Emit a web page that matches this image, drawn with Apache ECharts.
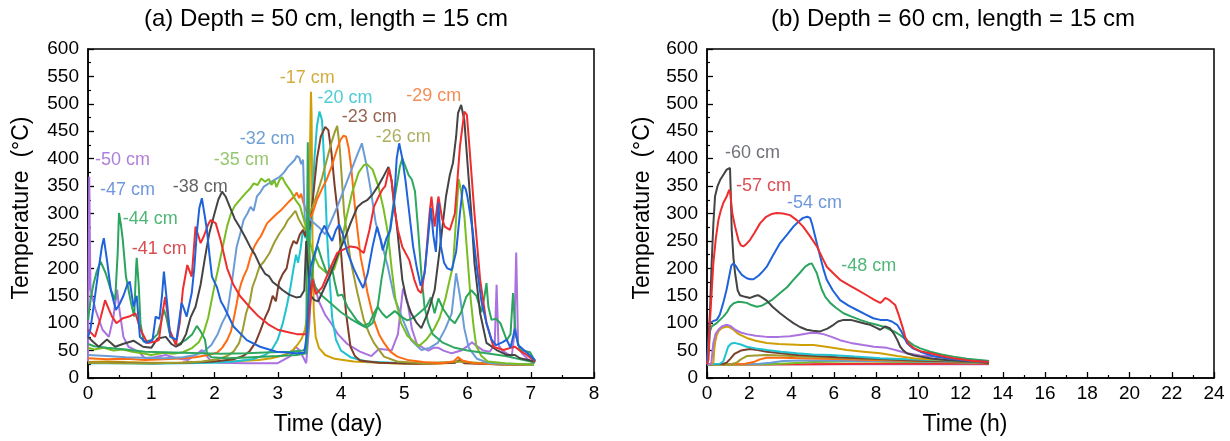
<!DOCTYPE html>
<html><head><meta charset="utf-8">
<script src="https://cdn.jsdelivr.net/npm/echarts/dist/echarts.min.js"></script>
<style>html,body{margin:0;padding:0;background:#fff}#c{width:1230px;height:441px}</style>
</head><body><div id="c"></div>
<script>
// ---------- (a) Depth = 50 cm : time in days, temperature in °C ----------
const a17 = [[0,29],[0.3,30],[0.6,29],[1,28],[1.4,28],[1.8,29],[2.1,30],[2.4,31],[2.7,33],[2.9,36],[3.05,40],[3.15,44],[3.25,52],[3.32,62],[3.38,72],[3.43,88],[3.47,115],[3.49,200],[3.51,420],[3.525,522],[3.535,480],[3.55,250],[3.57,120],[3.6,75],[3.65,55],[3.75,42],[3.9,35],[4.2,30],[4.6,28],[5,26],[5.5,26],[5.8,28],[5.88,34],[5.95,28],[6.4,25],[7.05,24]];
const a20 = [[0,27],[0.5,27],[1,26],[1.5,27],[2,28],[2.3,30],[2.6,34],[2.8,42],[2.9,50],[3.0,70],[3.08,100],[3.15,135],[3.2,165],[3.25,200],[3.29,225],[3.32,210],[3.36,235],[3.4,270],[3.44,255],[3.47,290],[3.5,240],[3.54,300],[3.58,400],[3.62,460],[3.66,486],[3.7,470],[3.74,380],[3.78,260],[3.82,180],[3.86,110],[3.92,70],[4.0,50],[4.15,38],[4.4,30],[5,27],[5.8,28],[5.88,33],[5.95,28],[6.5,25],[7.05,24]];
const a23 = [[0,28],[0.5,28],[1,27],[1.5,28],[2,30],[2.3,34],[2.45,40],[2.55,48],[2.65,65],[2.72,85],[2.8,110],[2.86,125],[2.92,150],[2.97,140],[3.02,175],[3.08,190],[3.14,200],[3.2,235],[3.25,250],[3.3,245],[3.35,262],[3.4,270],[3.44,258],[3.47,285],[3.5,270],[3.55,320],[3.62,400],[3.68,440],[3.75,458],[3.8,452],[3.85,410],[3.9,350],[3.96,290],[4.02,200],[4.08,118],[4.15,57],[4.22,40],[4.3,32],[4.6,28],[5.2,26],[5.8,28],[5.88,32],[5.95,27],[6.5,25],[7.05,24]];
const a26 = [[0,28],[0.5,27],[1,27],[1.5,28],[1.8,30],[2.05,34],[2.2,40],[2.3,48],[2.39,64],[2.45,90],[2.5,118],[2.56,140],[2.6,166],[2.66,185],[2.71,203],[2.78,212],[2.87,228],[2.95,248],[3.03,264],[3.1,275],[3.16,288],[3.22,296],[3.28,305],[3.33,290],[3.38,280],[3.43,270],[3.48,295],[3.55,312],[3.62,335],[3.7,365],[3.78,400],[3.85,430],[3.9,448],[3.94,460],[3.98,420],[4.05,300],[4.15,215],[4.26,155],[4.36,106],[4.45,80],[4.52,64],[4.68,39],[4.89,30],[5.3,27],[5.85,30],[6.5,25],[7.05,24]];
const a29 = [[0,36],[0.3,34],[0.6,35],[0.9,33],[1.2,34],[1.5,36],[1.7,38],[1.9,42],[2.04,46],[2.12,55],[2.2,69],[2.26,85],[2.3,106],[2.35,135],[2.38,155],[2.42,172],[2.46,185],[2.52,200],[2.57,221],[2.63,240],[2.68,250],[2.73,258],[2.78,270],[2.83,282],[2.9,290],[2.99,300],[3.05,306],[3.1,312],[3.18,322],[3.26,331],[3.3,338],[3.34,328],[3.37,336],[3.41,318],[3.45,305],[3.5,290],[3.55,300],[3.62,325],[3.7,345],[3.77,361],[3.85,385],[3.93,415],[3.99,434],[4.04,442],[4.08,440],[4.12,420],[4.16,385],[4.23,300],[4.31,221],[4.38,180],[4.42,155],[4.52,106],[4.6,80],[4.68,64],[4.78,48],[4.89,39],[5.05,33],[5.3,29],[5.6,27],[5.78,30],[5.85,38],[5.92,32],[6.1,27],[6.5,25],[7.05,24]];
const a32 = [[0,42],[0.3,40],[0.6,38],[0.9,37],[1.2,36],[1.5,38],[1.7,42],[1.85,50],[1.95,60],[2.05,80],[2.12,100],[2.2,118],[2.28,179],[2.35,239],[2.41,265],[2.46,288],[2.52,300],[2.57,312],[2.62,305],[2.67,331],[2.72,338],[2.78,349],[2.86,355],[2.94,361],[3.03,367],[3.1,375],[3.16,385],[3.22,392],[3.27,398],[3.3,405],[3.34,402],[3.37,390],[3.4,398],[3.43,282],[3.48,295],[3.55,285],[3.65,275],[3.75,262],[3.84,285],[3.95,315],[4.05,345],[4.15,375],[4.25,405],[4.33,428],[4.4,390],[4.47,343],[4.55,282],[4.63,252],[4.74,203],[4.84,148],[4.98,106],[5.11,69],[5.27,51],[5.4,55],[5.53,64],[5.65,90],[5.75,118],[5.82,191],[5.88,150],[5.95,90],[6.02,55],[6.15,35],[6.35,27],[7.05,24]];
const a35 = [[0,55],[0.1,52],[0.25,55],[0.4,50],[0.55,52],[0.7,48],[0.85,45],[1.0,42],[1.2,46],[1.35,44],[1.5,47],[1.65,55],[1.75,65],[1.83,83],[1.9,110],[1.96,145],[2.01,174],[2.06,200],[2.1,223],[2.15,250],[2.2,277],[2.26,300],[2.32,314],[2.4,325],[2.5,338],[2.56,345],[2.62,355],[2.68,352],[2.74,364],[2.8,358],[2.86,363],[2.9,352],[2.95,360],[2.98,348],[3.03,362],[3.07,366],[3.12,355],[3.18,345],[3.22,338],[3.28,325],[3.35,314],[3.41,290],[3.47,265],[3.55,230],[3.65,204],[3.77,192],[3.89,198],[3.98,230],[4.08,290],[4.18,340],[4.28,375],[4.36,388],[4.41,390],[4.5,380],[4.59,350],[4.67,310],[4.74,265],[4.8,200],[4.86,144],[4.95,100],[5.05,77],[5.23,58],[5.35,70],[5.47,89],[5.56,110],[5.65,144],[5.72,180],[5.77,204],[5.82,290],[5.86,363],[5.9,340],[5.95,296],[6.0,220],[6.05,144],[6.1,90],[6.14,58],[6.22,40],[6.32,30],[6.6,27],[7.05,24]];
const a38 = [[0,75],[0.08,66],[0.17,57],[0.3,70],[0.43,57],[0.55,62],[0.72,68],[0.87,57],[1.0,55],[1.1,72],[1.23,75],[1.32,62],[1.39,57],[1.47,62],[1.55,80],[1.62,110],[1.7,130],[1.78,170],[1.85,220],[1.92,265],[2.0,300],[2.06,325],[2.12,340],[2.18,330],[2.25,310],[2.32,290],[2.4,275],[2.48,258],[2.56,240],[2.64,225],[2.72,205],[2.8,190],[2.86,186],[2.92,175],[3.0,168],[3.08,160],[3.18,152],[3.29,147],[3.36,148],[3.42,160],[3.45,250],[3.48,200],[3.52,150],[3.58,142],[3.64,140],[3.72,160],[3.84,191],[3.95,225],[4.05,252],[4.15,282],[4.26,312],[4.34,320],[4.42,325],[4.5,335],[4.58,349],[4.66,365],[4.75,385],[4.8,360],[4.84,320],[4.89,270],[4.97,179],[5.04,140],[5.11,118],[5.2,100],[5.27,91],[5.37,118],[5.48,160],[5.58,252],[5.66,331],[5.72,370],[5.77,392],[5.82,440],[5.85,483],[5.9,498],[5.95,470],[6.0,392],[6.06,300],[6.11,210],[6.2,118],[6.3,64],[6.46,51],[6.62,42],[6.75,42],[6.83,36],[7.07,30]];
const a41 = [[0,88],[0.11,75],[0.2,110],[0.27,142],[0.33,125],[0.38,112],[0.45,100],[0.55,109],[0.65,112],[0.75,118],[0.83,88],[0.94,64],[1.05,66],[1.12,69],[1.18,120],[1.22,148],[1.29,88],[1.39,60],[1.45,100],[1.5,161],[1.57,206],[1.64,185],[1.7,276],[1.78,246],[1.83,258],[1.9,280],[1.94,288],[2.02,282],[2.1,250],[2.2,200],[2.3,170],[2.4,150],[2.55,130],[2.7,112],[2.85,98],[3.0,88],[3.15,84],[3.3,80],[3.45,80],[3.5,120],[3.55,180],[3.6,153],[3.7,165],[3.84,203],[3.94,228],[4.05,235],[4.15,240],[4.25,238],[4.36,228],[4.45,270],[4.52,312],[4.6,332],[4.65,343],[4.7,350],[4.76,382],[4.8,360],[4.84,312],[4.9,270],[4.97,239],[5.08,215],[5.16,179],[5.22,160],[5.27,155],[5.33,200],[5.4,300],[5.43,331],[5.48,276],[5.54,331],[5.6,290],[5.64,276],[5.72,270],[5.8,300],[5.84,360],[5.88,422],[5.95,486],[5.99,480],[6.03,422],[6.11,300],[6.2,179],[6.3,100],[6.41,57],[6.57,51],[6.68,55],[6.75,57],[6.85,48],[6.94,42],[7.07,30]];
const a44 = [[0,106],[0.05,150],[0.09,173],[0.14,195],[0.2,212],[0.28,191],[0.36,161],[0.43,142],[0.47,230],[0.49,301],[0.52,280],[0.55,252],[0.6,185],[0.68,137],[0.73,112],[0.76,200],[0.77,219],[0.8,173],[0.83,100],[0.88,66],[1.0,69],[1.1,80],[1.15,100],[1.2,125],[1.24,110],[1.29,82],[1.41,60],[1.54,69],[1.65,80],[1.72,95],[1.78,85],[1.85,70],[1.88,45],[1.95,38],[2.2,36],[2.6,38],[3.0,40],[3.3,42],[3.45,45],[3.5,120],[3.55,200],[3.6,232],[3.63,240],[3.7,215],[3.78,190],[3.85,205],[3.9,175],[3.95,150],[4.02,152],[4.1,130],[4.25,105],[4.36,95],[4.45,100],[4.52,118],[4.58,130],[4.65,118],[4.72,110],[4.85,122],[4.95,112],[5.05,105],[5.15,110],[5.25,120],[5.35,130],[5.42,147],[5.48,118],[5.54,145],[5.62,125],[5.72,108],[5.8,100],[5.9,120],[5.98,148],[6.06,160],[6.14,150],[6.22,120],[6.27,150],[6.3,173],[6.33,130],[6.38,106],[6.45,108],[6.52,100],[6.62,69],[6.68,80],[6.72,155],[6.76,80],[6.83,51],[6.99,47],[7.07,30]];
const a44b = [[0,62],[0.1,58],[0.3,55],[0.6,52],[0.9,48],[1.2,47],[1.5,46],[1.8,45],[2.1,44],[2.5,45],[2.9,47],[3.2,48],[3.4,50],[3.45,55],[3.465,300],[3.475,430],[3.49,260],[3.52,190],[3.6,165],[3.7,150],[3.85,135],[4.0,120],[4.15,108],[4.3,98],[4.4,92],[4.5,100],[4.58,130],[4.64,180],[4.7,220],[4.76,260],[4.82,310],[4.88,350],[4.93,385],[4.97,400],[5.02,385],[5.07,370],[5.12,362],[5.17,340],[5.22,270],[5.27,190],[5.32,130],[5.38,100],[5.45,80],[5.6,65],[5.8,55],[6.0,50],[6.3,45],[6.6,40],[7.07,28]];
const a47 = [[0,75],[0.04,90],[0.1,140],[0.17,200],[0.22,240],[0.25,255],[0.3,215],[0.36,161],[0.44,124],[0.5,135],[0.56,150],[0.62,170],[0.66,176],[0.72,130],[0.77,150],[0.82,75],[0.92,64],[1.02,69],[1.07,112],[1.13,108],[1.17,150],[1.2,194],[1.25,137],[1.3,75],[1.4,70],[1.48,137],[1.52,125],[1.56,112],[1.64,155],[1.68,200],[1.72,264],[1.76,310],[1.8,328],[1.84,300],[1.88,270],[1.92,225],[1.96,185],[2.04,165],[2.1,140],[2.15,130],[2.3,94],[2.51,69],[2.72,57],[2.98,48],[3.29,45],[3.42,46],[3.46,80],[3.5,180],[3.52,203],[3.6,233],[3.67,262],[3.74,278],[3.8,262],[3.86,250],[3.92,270],[3.97,280],[4.03,262],[4.1,230],[4.2,200],[4.28,180],[4.35,164],[4.42,190],[4.5,240],[4.57,276],[4.62,255],[4.66,233],[4.72,255],[4.78,270],[4.84,320],[4.88,400],[4.92,428],[4.97,400],[5.02,360],[5.08,300],[5.14,240],[5.2,200],[5.26,168],[5.32,190],[5.38,260],[5.42,310],[5.46,260],[5.5,230],[5.54,320],[5.58,240],[5.63,210],[5.68,200],[5.75,197],[5.82,230],[5.88,300],[5.93,352],[5.97,345],[6.0,330],[6.08,270],[6.15,200],[6.22,140],[6.3,100],[6.38,70],[6.45,60],[6.55,65],[6.62,70],[6.68,55],[6.75,90],[6.8,60],[6.9,50],[7.0,40],[7.07,32]];
const a50 = [[0,30],[0.01,200],[0.02,367],[0.03,250],[0.04,161],[0.12,124],[0.23,88],[0.33,75],[0.4,110],[0.46,161],[0.49,130],[0.56,75],[0.64,57],[0.75,51],[0.8,48],[0.9,36],[1.05,38],[1.23,42],[1.4,36],[1.58,33],[1.7,42],[1.8,51],[1.88,40],[1.93,33],[2.05,28],[2.5,27],[3.0,27],[3.2,40],[3.28,57],[3.35,50],[3.45,27],[3.5,100],[3.54,192],[3.58,170],[3.65,140],[3.75,115],[3.85,99],[3.95,80],[4.1,62],[4.3,48],[4.48,40],[4.6,53],[4.7,52],[4.8,50],[4.9,80],[4.98,163],[5.05,140],[5.12,90],[5.2,62],[5.3,55],[5.38,50],[5.46,55],[5.54,55],[5.62,50],[5.75,45],[5.9,50],[6.0,58],[6.07,65],[6.15,58],[6.25,50],[6.35,48],[6.43,60],[6.46,170],[6.49,60],[6.55,50],[6.62,45],[6.7,40],[6.74,80],[6.77,229],[6.8,60],[6.86,45],[6.95,35],[7.05,26]];

// ---------- (b) Depth = 60 cm : time in hours ----------
const b60 = [[0,25],[0.06,27],[0.14,120],[0.22,209],[0.3,280],[0.38,331],[0.5,350],[0.62,361],[0.8,372],[0.93,380],[1.09,383],[1.13,330],[1.17,270],[1.25,220],[1.33,191],[1.45,160],[1.56,151],[1.8,148],[2.04,146],[2.3,150],[2.42,151],[2.6,147],[2.83,141],[3.1,130],[3.46,118],[3.8,108],[4.09,100],[4.4,93],[4.72,88],[5.0,86],[5.36,85],[5.7,90],[5.99,97],[6.2,103],[6.46,106],[6.8,106],[7.1,103],[7.5,99],[7.73,97],[8.0,92],[8.2,88],[8.44,94],[8.65,91],[8.83,82],[9.0,70],[9.15,57],[9.3,50],[9.46,45],[9.8,41],[10.1,39],[10.7,35],[11.35,33],[12.1,31],[12.9,30],[13.35,28]];
const b57 = [[0,25],[0.06,33],[0.15,110],[0.3,209],[0.42,255],[0.54,288],[0.65,305],[0.77,319],[0.92,330],[1.05,343],[1.1,338],[1.2,300],[1.33,276],[1.5,250],[1.6,242],[1.72,240],[1.88,245],[2.04,252],[2.25,265],[2.51,282],[2.8,294],[3.05,299],[3.3,301],[3.6,300],[3.93,297],[4.25,288],[4.55,276],[4.85,260],[5.2,240],[5.45,220],[5.67,203],[6.0,190],[6.3,179],[6.7,170],[7.1,161],[7.6,150],[7.9,143],[8.2,137],[8.3,140],[8.44,146],[8.6,143],[8.75,138],[8.91,133],[9.05,118],[9.15,106],[9.28,90],[9.38,75],[9.55,62],[9.77,55],[10.1,49],[10.57,45],[11.1,40],[11.67,36],[12.4,32],[13.35,29]];
const b54 = [[0,25],[0.06,60],[0.14,100],[0.3,104],[0.46,106],[0.6,115],[0.77,137],[0.92,160],[1.05,185],[1.15,205],[1.25,209],[1.35,205],[1.48,197],[1.65,188],[1.88,182],[2.05,180],[2.2,180],[2.45,187],[2.65,195],[2.83,203],[3.1,222],[3.46,246],[3.8,262],[4.09,276],[4.35,286],[4.55,292],[4.75,294],[4.88,292],[4.98,280],[5.12,258],[5.25,238],[5.36,221],[5.5,200],[5.67,179],[5.95,160],[6.3,142],[6.7,132],[7.1,124],[7.5,116],[7.87,109],[8.2,106],[8.52,106],[8.75,103],[9.0,97],[9.2,85],[9.46,64],[9.75,54],[10.1,48],[10.7,40],[11.35,36],[12.2,32],[13.35,29]];
const b51 = [[0,25],[0.2,26],[0.3,64],[0.4,80],[0.54,88],[0.7,94],[0.93,97],[1.1,95],[1.33,88],[1.6,83],[1.88,80],[2.3,77],[2.83,75],[3.4,75],[3.93,76],[4.4,79],[4.88,82],[5.2,82],[5.51,80],[5.9,75],[6.3,69],[6.8,64],[7.4,60],[7.9,57],[8.52,55],[9.0,50],[9.46,45],[10.1,41],[10.73,39],[11.5,36],[12.3,33],[13.35,31]];
const b48 = [[0,25],[0.06,33],[0.14,85],[0.22,94],[0.46,100],[0.77,112],[0.95,120],[1.09,130],[1.25,136],[1.48,139],[1.7,138],[1.88,137],[2.1,133],[2.36,130],[2.6,132],[2.83,137],[3.1,143],[3.46,155],[3.8,166],[4.09,179],[4.4,192],[4.65,203],[4.85,208],[4.96,209],[5.08,200],[5.2,191],[5.32,175],[5.44,161],[5.6,148],[5.83,137],[6.1,128],[6.46,118],[6.85,112],[7.25,106],[7.65,101],[8.04,97],[8.4,93],[8.67,88],[8.9,84],[9.15,78],[9.45,69],[9.77,60],[10.1,54],[10.57,48],[11.1,43],[11.67,39],[12.3,35],[12.9,33],[13.35,31]];
const b45 = [[0,25],[0.3,27],[0.34,50],[0.38,64],[0.46,78],[0.54,85],[0.7,91],[0.93,94],[1.1,92],[1.25,88],[1.5,80],[1.88,73],[2.3,68],[2.83,64],[3.4,62],[3.93,61],[4.5,60],[5.04,60],[5.8,56],[6.62,51],[7.4,48],[8.2,45],[9.0,40],[9.77,36],[10.5,34],[11.35,33],[12.3,31],[13.35,29]];
const b42 = [[0,25],[0.6,26],[0.77,30],[0.9,45],[1.0,57],[1.15,63],[1.3,64],[1.6,61],[1.88,57],[2.3,54],[2.83,51],[3.5,48],[4.25,45],[5.0,43],[5.83,42],[7.0,39],[8.2,36],[9.5,34],[10.75,33],[12,31],[13.35,29]];
const b39 = [[0,25],[0.8,26],[0.93,28],[1.1,35],[1.3,44],[1.6,50],[2.04,53],[2.4,51],[2.83,48],[3.5,45],[4.3,42],[5.2,40],[6.2,38],[7.3,36],[8.5,34],[9.8,32],[11,31],[12.2,30],[13.35,28]];
const b36 = [[0,25],[1.2,26],[1.41,28],[1.6,34],[1.88,40],[2.3,41],[2.83,42],[3.5,41],[4.5,39],[5.5,38],[6.5,36],[7.6,35],[8.8,33],[10,32],[11.3,31],[12.5,29],[13.35,28]];
const b33 = [[0,25],[1.8,26],[2.2,29],[2.5,34],[2.83,37],[3.5,37],[4.5,36],[5.5,35],[6.6,34],[7.8,33],[9,32],[10.3,31],[11.6,30],[13.35,28]];
const b30 = [[0,25],[2.5,26],[3,28],[3.6,31],[4.5,32],[5.6,32],[7,31],[8.5,31],[10,30],[11.5,29],[13.35,28]];
const b27 = [[0,24],[3,25],[4,27],[5,29],[6.5,30],[8,30],[9.5,29],[11,29],[12.5,28],[13.35,27]];
const b24 = [[0,25],[3,25],[6,25],[9,25],[12,25],[13.35,25]];
const b21 = [[0,24],[5,25],[8,26],[10,26.5],[13.35,26]];

// ---------- tick / axis ranges ----------
const xTicksA = [0, 8, 1];   // min, max, interval (day)
const xTicksB = [0, 24, 2];  // min, max, interval (h)
const yTicks  = [0, 600, 50];

// ---------- annotation labels (text, x, y in data units) ----------
const labTextA = ['-50 cm','-47 cm','-44 cm','-41 cm','-38 cm','-35 cm','-32 cm','-17 cm','-20 cm','-23 cm','-26 cm','-29 cm'];
const labXA    = [0.11, 0.19, 0.55, 0.69, 1.34, 1.99, 2.40, 3.03, 3.63, 4.01, 4.55, 5.03];
const labYA    = [398, 343, 290, 235, 349, 398, 436, 547, 511, 476, 440, 515];
const labTextB = ['-60 cm','-57 cm','-54 cm','-48 cm'];
const labXB    = [0.85, 1.37, 3.79, 6.35];
const labYB    = [411, 350, 319, 204];

// ---------- styles ----------
const C = {gold:'#CFA006', cyan:'#1EC3CF', brown:'#7E3E2A', olive:'#9E9B30', orange:'#FF6B12', lblue:'#6C9CD6', lgreen:'#78BD22', gray:'#444444', red:'#EE2D2F', green:'#2BA45E', green2:'#2FA862', blue:'#1F63DB', purple:'#AA72E0'};
const labColA = ['#9B5FCF','#4A7DD4','#22A455','#CC1F24','#3C3C3C','#79B84A','#4A86CB','#C9960C','#20BFCA','#7A3D24','#9A9A3A','#F0702A'];
const labColB = ['#4B4F57','#D3222A','#4A7DD4','#22A455'];
const FONT = '"Liberation Sans", Arial, sans-serif';

const seriesA = [[a50,C.purple],[a17,C.gold],[a20,C.cyan],[a23,C.brown],[a26,C.olive],[a29,C.orange],[a32,C.lblue],[a35,C.lgreen],[a44b,C.green2],[a44,C.green],[a38,C.gray],[a41,C.red],[a47,C.blue]];
const seriesB = [[b24,C.purple],[b21,C.red],[b27,C.lgreen],[b30,C.lblue],[b33,C.orange],[b36,C.olive],[b39,C.brown],[b42,C.cyan],[b45,C.gold],[b51,C.purple],[b48,C.green],[b60,C.gray],[b54,C.blue],[b57,C.red]];

function xAxis(g, t){
  return {gridIndex:g, type:'value', min:t[0], max:t[1], interval:t[2],
    axisLine:{show:true, onZero:false, lineStyle:{color:'#000', width:1.5}},
    axisTick:{show:true, inside:true, length:6, lineStyle:{color:'#000', width:1.3}},
    minorTick:{show:true, splitNumber:2, length:3, lineStyle:{color:'#000', width:1.2}},
    splitLine:{show:false}, minorSplitLine:{show:false},
    axisLabel:{color:'#000', fontSize:19, fontFamily:FONT, margin:6}};
}
function yAxis(g){
  return {gridIndex:g, type:'value', min:yTicks[0], max:yTicks[1], interval:yTicks[2],
    axisLine:{show:true, onZero:false, lineStyle:{color:'#000', width:1.5}},
    axisTick:{show:true, inside:true, length:6, lineStyle:{color:'#000', width:1.3}},
    minorTick:{show:true, splitNumber:2, length:3, lineStyle:{color:'#000', width:1.2}},
    splitLine:{show:false},
    axisLabel:{color:'#000', fontSize:19, fontFamily:FONT, margin:9}};
}
function lineSeries(list, g){
  return list.map(([d,c]) => ({type:'line', xAxisIndex:g, yAxisIndex:g, data:d, showSymbol:false, symbol:'none',
    lineStyle:{color:c, width:2}, itemStyle:{color:c}, silent:true, animation:false, clip:true}));
}
function labelSeries(texts, xs, ys, cols, g){
  return {type:'scatter', xAxisIndex:g, yAxisIndex:g, symbolSize:0, silent:true, z:10,
    data: texts.map((t,i)=>({value:[xs[i], ys[i]], label:{show:true, position:'right', distance:0, formatter:t, color:cols[i], fontSize:18, fontFamily:FONT}}))};
}
function txt(x, y, s, size, rot){
  return {type:'text', x:x, y:y, rotation:rot||0, silent:true,
    style:{text:s, fill:'#000', font:size+'px '+FONT, align:'center', verticalAlign:'middle'}};
}

const chart = echarts.init(document.getElementById('c'), null, {renderer:'canvas'});
chart.setOption({
  animation:false,
  backgroundColor:'#fff',
  grid:[
    {left:88, top:49, width:506, height:329, show:true, borderColor:'#000', borderWidth:1.5, backgroundColor:'rgba(0,0,0,0)'},
    {left:707, top:49, width:507, height:329, show:true, borderColor:'#000', borderWidth:1.5, backgroundColor:'rgba(0,0,0,0)'}
  ],
  xAxis:[xAxis(0, xTicksA), xAxis(1, xTicksB)],
  yAxis:[yAxis(0), yAxis(1)],
  series:[].concat(lineSeries(seriesA,0), lineSeries(seriesB,1),
    [labelSeries(labTextA, labXA, labYA, labColA, 0), labelSeries(labTextB, labXB, labYB, labColB, 1)]),
  graphic:[
    txt(326, 19, '(a) Depth = 50 cm, length = 15 cm', 24),
    txt(953, 19, '(b) Depth = 60 cm, length = 15 cm', 24),
    txt(328, 425, 'Time (day)', 23),
    txt(965, 425, 'Time (h)', 23),
    txt(22, 208, 'Temperature  (°C)', 23, Math.PI/2),
    txt(643, 208, 'Temperature  (°C)', 23, Math.PI/2)
  ]
});
</script></body></html>
